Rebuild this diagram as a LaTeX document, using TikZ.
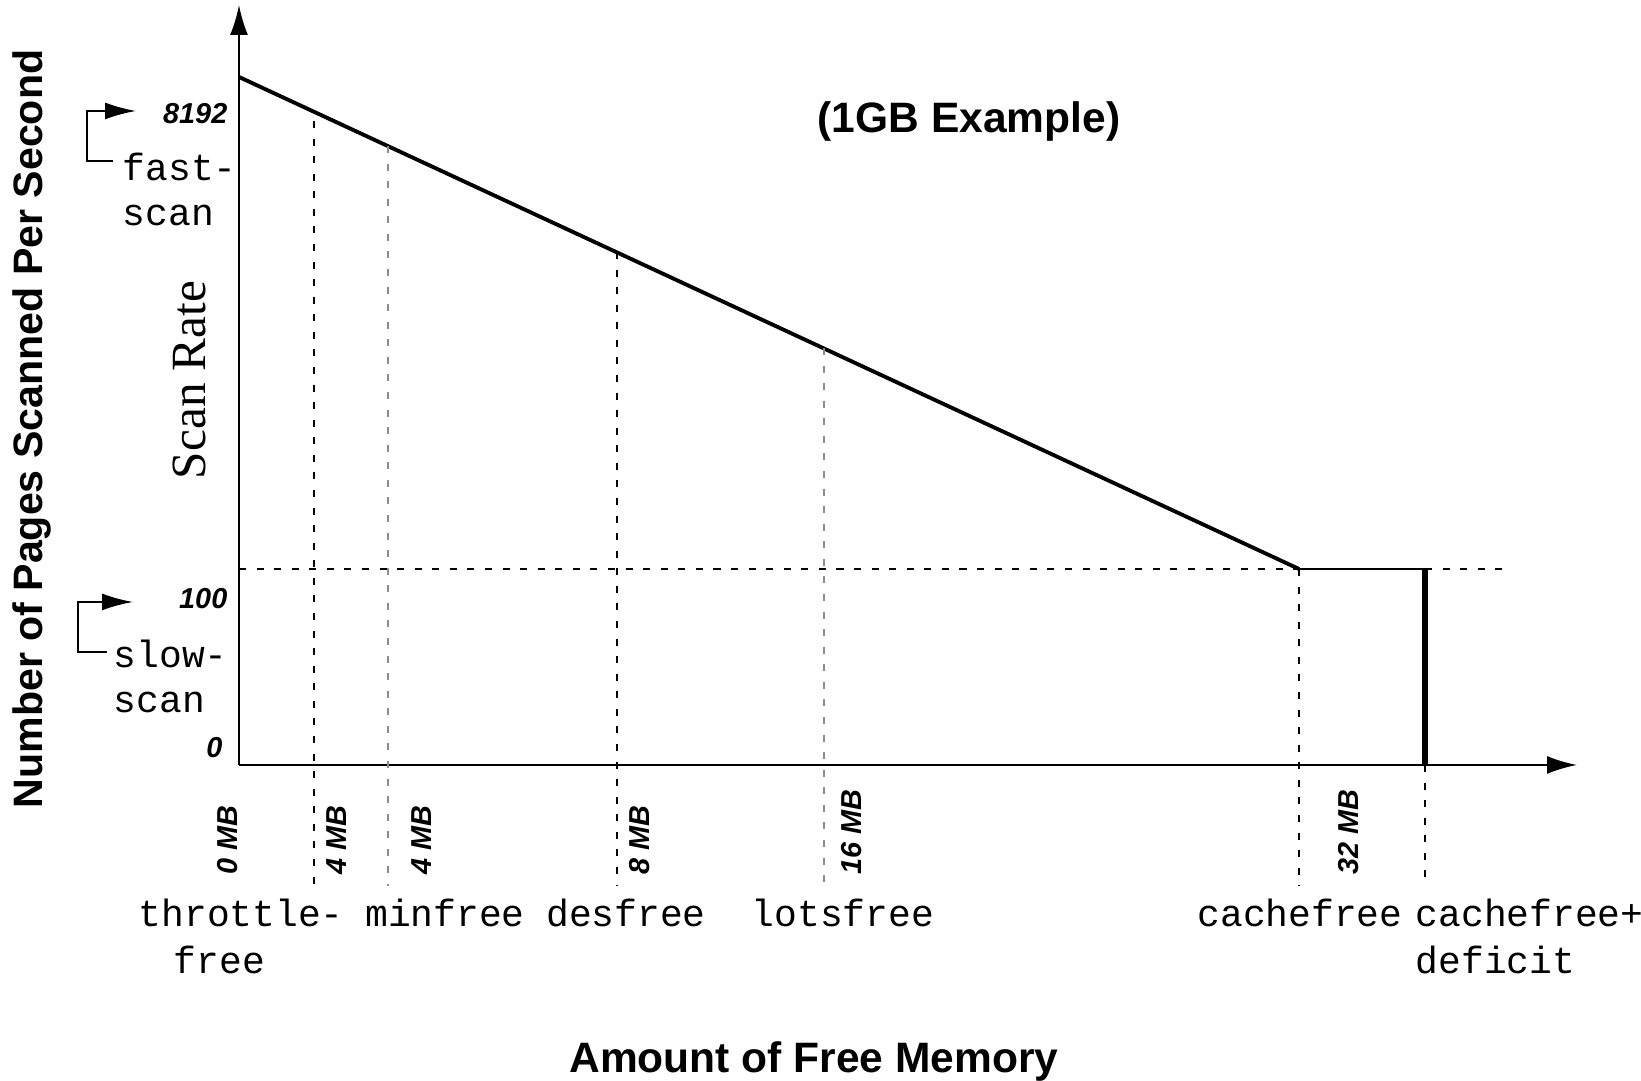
\documentclass[tikz,border=0pt]{standalone}
\usepackage{fontspec}
\setmainfont{Liberation Serif}
\setsansfont{Liberation Sans}
\setmonofont{Liberation Mono}
\usetikzlibrary{arrows.meta}

\begin{document}
\begin{tikzpicture}[
  axis/.style={line width=0.6pt,-{Latex[length=3mm,width=1.8mm]}},
  bracket/.style={line width=0.6pt,-{Latex[length=3.1mm,width=1.7mm]}},
  guide/.style={line width=0.45pt,dash pattern=on 2pt off 3pt},
  faint/.style={guide,black!45},
  num/.style={font=\fontsize{8.2}{9.6}\selectfont\sffamily\bfseries\itshape,inner sep=0pt},
  mb/.style={num,rotate=90,anchor=base west},
  param/.style={font=\fontsize{10.8}{13.4}\selectfont\ttfamily,inner sep=0pt},
  heading/.style={font=\fontsize{12.1}{14}\selectfont\sffamily\bfseries,inner sep=0pt,anchor=base}]
\useasboundingbox (0,0) rectangle (16.41,10.81);

% axes
\coordinate (O) at (2.39,3.16);
\coordinate (ytip) at (2.39,10.76);
\coordinate (xtip) at (15.77,3.16);
\draw[axis] (O) -- (ytip);
\draw[axis] (O) -- (xtip);

% scan rate curve
\coordinate (fast) at (2.39,10.04);
\coordinate (knee) at (12.99,5.12);
\coordinate (cfd) at (14.25,5.12);
\coordinate (cfdb) at (14.25,3.16);
\draw[line width=1.1pt] (fast) -- (knee);
\draw[line width=0.6pt] (knee) -- (cfd);
\draw[line width=1.7pt] (cfd) -- (cfdb);

% dashed guides
\coordinate (slow) at (2.39,5.12);
\coordinate (slowend) at (15.03,5.12);
\draw[guide] (slow) -- (knee);
\draw[guide] (cfd) -- (slowend);
\foreach \name/\x/\ytop/\sty in {tf/3.14/9.60/guide, mf/3.88/9.35/faint,
    df/6.17/8.29/guide, lf/8.24/7.33/faint, cf/12.99/5.12/guide, cd/14.25/3.16/guide}
  \draw[\sty] (\x,\ytop) coordinate (\name top) -- (\x,1.95) coordinate (\name bot);

% rate values
\node[num,anchor=base east] (r8192) at (2.28,9.57) {8192};
\node[num,anchor=base east] (r100) at (2.28,4.72) {100};
\node[num,anchor=base east] (r0) at (2.23,3.23) {0};

% fastscan / slowscan
\node[param,anchor=base west] (fast1) at (1.22,9.00) {fast-};
\node[param,anchor=base west] (fast2) at (1.22,8.55) {scan};
\node[param,anchor=base west] (slow1) at (1.13,4.13) {slow-};
\node[param,anchor=base west] (slow2) at (1.13,3.68) {scan};
\coordinate (fb) at (1.13,9.20);
\coordinate (fc) at (0.87,9.20);
\coordinate (ft) at (1.36,9.70);
\draw[bracket] (fb) -- (fc) |- (ft);
\coordinate (sb) at (1.07,4.29);
\coordinate (sc) at (0.78,4.29);
\coordinate (st) at (1.33,4.79);
\draw[bracket] (sb) -- (sc) |- (st);

% memory sizes
\node[mb] (mb0) at (2.37,2.06) {0 MB};
\node[mb] (mbtf) at (3.46,2.06) {4 MB};
\node[mb] (mbmf) at (4.31,2.06) {4 MB};
\node[mb] (mbdf) at (6.49,2.06) {8 MB};
\node[mb] (mblf) at (8.61,2.06) {16 MB};
\node[mb] (mbcf) at (13.58,2.06) {32 MB};

% tunables
\node[param,anchor=base west] (throttle1) at (1.38,1.54) {throttle-};
\node[param,anchor=base west] (throttle2) at (1.73,1.07) {free};
\node[param,anchor=base] (minfree) at (4.45,1.54) {minfree};
\node[param,anchor=base] (desfree) at (6.26,1.54) {desfree};
\node[param,anchor=base] (lotsfree) at (8.43,1.54) {lotsfree};
\node[param,anchor=base] (cachefree) at (13.00,1.54) {cachefree};
\node[param,anchor=base west] (deficit1) at (14.15,1.54) {cachefree+};
\node[param,anchor=base west] (deficit2) at (14.15,1.07) {deficit};

% titles
\node[rotate=90,anchor=base,font=\fontsize{14}{16}\selectfont,inner sep=0pt] (scanrate) at (2.05,7.01) {Scan Rate};
\node[heading,rotate=90,font=\fontsize{11.7}{14}\selectfont\sffamily\bfseries] (ylabel) at (0.42,6.52) {Number of Pages Scanned Per Second};
\node[heading] (xlabel) at (8.14,0.08) {Amount of Free Memory};
\node[heading] (example) at (9.69,9.48) {(1GB Example)};
\end{tikzpicture}
\end{document}
